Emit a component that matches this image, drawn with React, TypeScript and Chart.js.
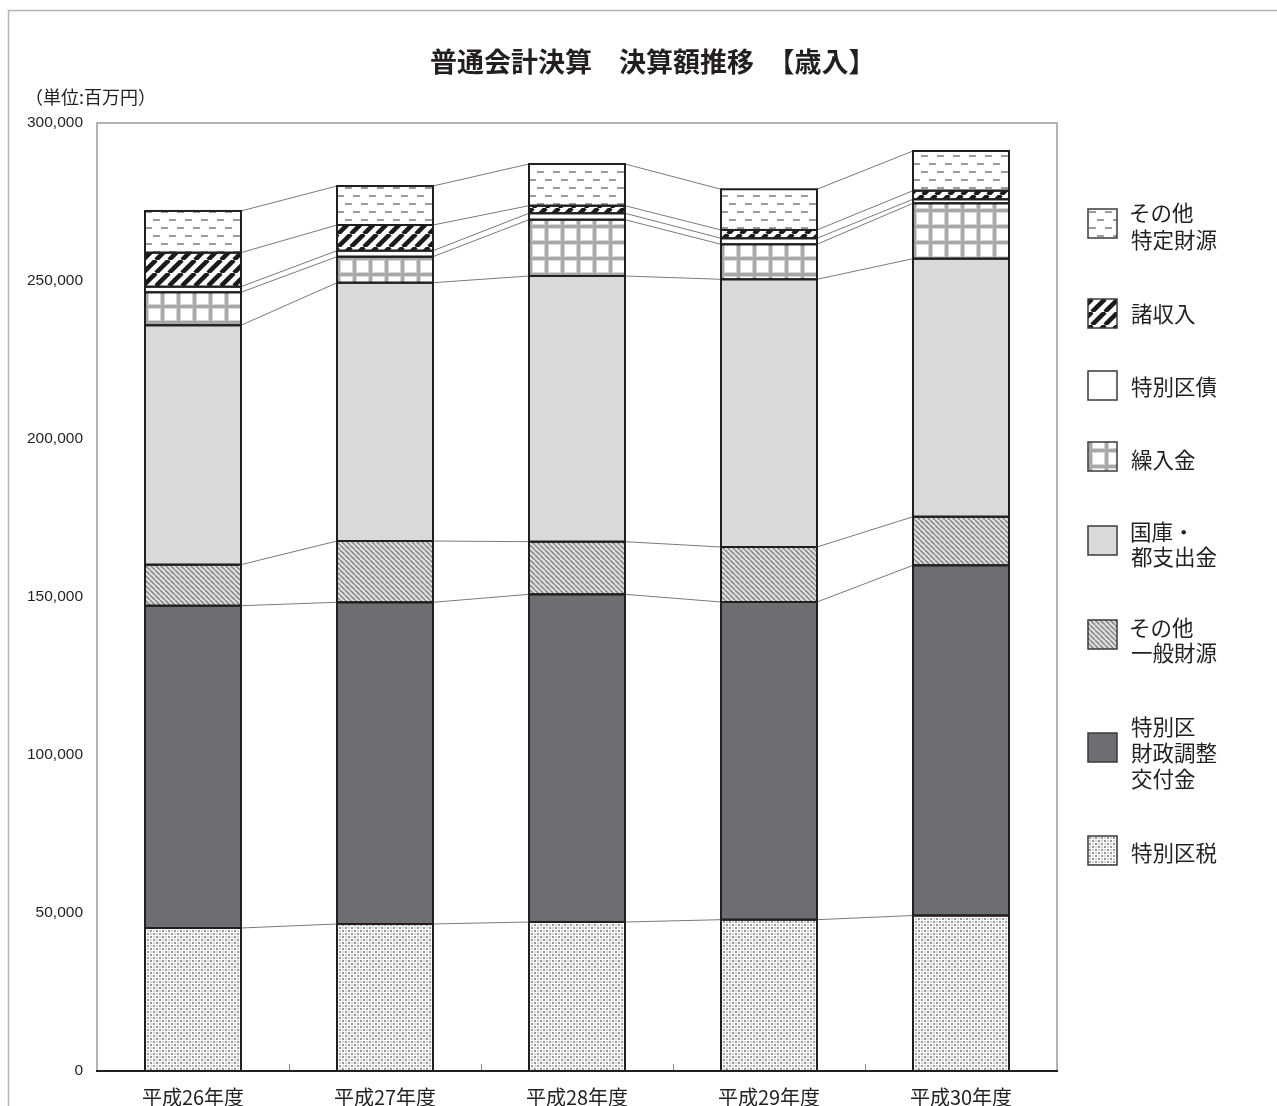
import React, { useEffect, useRef } from 'react';
import { Chart, registerables } from 'chart.js';

Chart.register(...registerables);

// ---- data (単位: 百万円) ----
const categories = ['平成26年度', '平成27年度', '平成28年度', '平成29年度', '平成30年度'];
const tokubetsukuZei = [45250, 46520, 47150, 47880, 49210];          // 特別区税
const zaichoKofukin = [102000, 101800, 103700, 100540, 110820];      // 特別区財政調整交付金
const sonotaIppan = [12980, 19400, 16650, 17400, 15380];             // その他一般財源
const kokkoToshishutsu = [75760, 81740, 84080, 84720, 81650];        // 国庫・都支出金
const kuriirekin = [10440, 8230, 17820, 11080, 17530];               // 繰入金
const tokubetsukuSai = [1770, 1900, 2030, 1900, 1270];               // 特別区債
const shoShunyu = [10760, 8130, 2400, 2630, 2720];                   // 諸収入
const sonotaTokutei = [13200, 12340, 13200, 12880, 12560];           // その他特定財源

const seriesLabels = ['特別区税', '特別区財政調整交付金', 'その他一般財源', '国庫・都支出金', '繰入金', '特別区債', '諸収入', 'その他特定財源'];
const yTickStep = 50000;
const yMax = 300000;
const titleText = '普通会計決算　決算額推移　【歳入】';
const unitText = '（単位:百万円）';

const JP = '"Noto Sans CJK JP", "Noto Sans", sans-serif';
const NUM = '"Liberation Sans", Arial, sans-serif';
const INK = '#231f20';

function makePattern(ctx: CanvasRenderingContext2D, w: number, h: number, draw: (g: CanvasRenderingContext2D, w: number, h: number) => void) {
  const c = document.createElement('canvas');
  c.width = w;
  c.height = h;
  const g = c.getContext('2d')!;
  draw(g, w, h);
  return ctx.createPattern(c, 'repeat')!;
}

// draw text so that its visible glyph box starts at `left`
function textAtVisibleLeft(c: CanvasRenderingContext2D, t: string, left: number, y: number) {
  c.textAlign = 'left';
  const m = c.measureText(t);
  c.fillText(t, left + m.actualBoundingBoxLeft, y);
}

export default function App() {
  const ref = useRef<HTMLCanvasElement>(null);

  useEffect(() => {
    const canvas = ref.current!;
    const ctx = canvas.getContext('2d')!;

    const pDots = makePattern(ctx, 6, 6, (g, w, h) => {
      g.fillStyle = '#ffffff';
      g.fillRect(0, 0, w, h);
      g.fillStyle = '#999999';
      g.fillRect(0, 0, 2, 2);
      g.fillRect(3, 3, 2, 2);
      g.fillStyle = '#d4d4d4';
      g.fillRect(3, 0, 2, 2);
      g.fillRect(0, 3, 2, 2);
    });
    const pStripeGray = makePattern(ctx, 5, 5, (g, w, h) => {
      g.fillStyle = '#e4e4e4';
      g.fillRect(0, 0, w, h);
      g.strokeStyle = '#8a8a8a';
      g.lineWidth = 1.6;
      for (const k of [-w, 0, w]) {
        g.beginPath();
        g.moveTo(k, 0);
        g.lineTo(k + w, h);
        g.stroke();
      }
    });
    const pGrid = makePattern(ctx, 16, 16, (g, w, h) => {
      g.fillStyle = '#ffffff';
      g.fillRect(0, 0, w, h);
      g.fillStyle = '#d6d6d6';
      g.fillRect(0, 0, 5, h);
      g.fillRect(0, 0, w, 5);
      g.fillStyle = '#a8a8a8';
      g.fillRect(1, 0, 3, h);
      g.fillRect(0, 1, w, 3);
    });
    const pStripeBlack = makePattern(ctx, 13, 13, (g, w, h) => {
      g.fillStyle = '#ffffff';
      g.fillRect(0, 0, w, h);
      g.strokeStyle = '#1a1a1a';
      g.lineWidth = 4.5;
      for (const k of [-w, 0, w]) {
        g.beginPath();
        g.moveTo(k, h);
        g.lineTo(k + w, 0);
        g.stroke();
      }
    });
    const pDash = makePattern(ctx, 16, 16, (g, w, h) => {
      g.fillStyle = '#ffffff';
      g.fillRect(0, 0, w, h);
      g.fillStyle = '#9c9c9c';
      g.fillRect(1, 3, 7, 2);
      g.fillRect(9, 11, 7, 2);
    });

    const fills = [pDots, '#6d6e71', pStripeGray, '#d9d9db', pGrid, '#ffffff', pStripeBlack, pDash];
    const values = [tokubetsukuZei, zaichoKofukin, sonotaIppan, kokkoToshishutsu, kuriirekin, tokubetsukuSai, shoShunyu, sonotaTokutei];

    // legend layout (top to bottom): series index, label lines, swatch top, line centres
    const legendItems = [
      { ds: 7, lines: ['その他', '特定財源'], sw: 209, ys: [213, 240] },
      { ds: 6, lines: ['諸収入'], sw: 299, ys: [314] },
      { ds: 5, lines: ['特別区債'], sw: 371, ys: [387] },
      { ds: 4, lines: ['繰入金'], sw: 442, ys: [460] },
      { ds: 3, lines: ['国庫・', '都支出金'], sw: 526, ys: [532, 557] },
      { ds: 2, lines: ['その他', '一般財源'], sw: 620, ys: [628, 653] },
      { ds: 1, lines: ['特別区', '財政調整', '交付金'], sw: 733, ys: [727, 753, 779] },
      { ds: 0, lines: ['特別区税'], sw: 836, ys: [853] },
    ];

    const decorPlugin = {
      id: 'decor',
      beforeDatasetsDraw(chart: any) {
        const c = chart.ctx;
        const a = chart.chartArea;
        c.save();
        // outer frame (top + left)
        c.strokeStyle = '#b4b4b4';
        c.lineWidth = 1.5;
        c.beginPath();
        c.moveTo(8.5, 1106);
        c.lineTo(8.5, 10.5);
        c.lineTo(1277, 10.5);
        c.stroke();
        // plot frame
        c.strokeStyle = '#9a9a9a';
        c.lineWidth = 1.5;
        c.strokeRect(a.left, a.top, a.right - a.left, a.bottom - a.top);
        // connector lines between segment tops
        c.strokeStyle = '#7a7a7a';
        c.lineWidth = 1;
        chart.data.datasets.forEach((_d: any, di: number) => {
          const els = chart.getDatasetMeta(di).data;
          for (let i = 0; i < els.length - 1; i++) {
            const e1 = els[i].getProps(['x', 'y', 'width'], true);
            const e2 = els[i + 1].getProps(['x', 'y', 'width'], true);
            c.beginPath();
            c.moveTo(e1.x + e1.width / 2, e1.y);
            c.lineTo(e2.x - e2.width / 2, e2.y);
            c.stroke();
          }
        });
        c.restore();
      },
      afterDatasetsDraw(chart: any) {
        const c = chart.ctx;
        const a = chart.chartArea;
        c.save();
        c.strokeStyle = INK;
        c.lineWidth = 2;
        chart.data.datasets.forEach((_d: any, di: number) => {
          chart.getDatasetMeta(di).data.forEach((el: any) => {
            const p = el.getProps(['x', 'y', 'base', 'width'], true);
            c.strokeRect(p.x - p.width / 2, p.y, p.width, p.base - p.y);
          });
        });
        // category boundary ticks (inside)
        const xs = chart.scales.x;
        c.strokeStyle = '#8a8a8a';
        c.lineWidth = 1;
        for (let i = 0; i < categories.length - 1; i++) {
          const bx = Math.round((xs.getPixelForValue(i) + xs.getPixelForValue(i + 1)) / 2) + 0.5;
          c.beginPath();
          c.moveTo(bx, a.bottom);
          c.lineTo(bx, a.bottom - 7);
          c.stroke();
        }
        // baseline
        c.strokeStyle = INK;
        c.lineWidth = 2;
        c.beginPath();
        c.moveTo(a.left - 1, a.bottom);
        c.lineTo(a.right + 1, a.bottom);
        c.stroke();
        c.restore();
      },
      afterDraw(chart: any) {
        const c = chart.ctx;
        c.save();
        c.fillStyle = INK;
        c.textBaseline = 'middle';
        // title
        c.font = `bold 27px ${JP}`;
        textAtVisibleLeft(c, titleText, 431, 62);
        // unit
        c.font = `18px ${JP}`;
        textAtVisibleLeft(c, unitText, 37, 97);
        // legend
        legendItems.forEach((it) => {
          c.fillStyle = chart.data.datasets[it.ds].backgroundColor;
          c.fillRect(1088, it.sw, 29, 29);
          c.strokeStyle = '#3a3a3a';
          c.lineWidth = 1.5;
          c.strokeRect(1088, it.sw, 29, 29);
          c.fillStyle = INK;
          c.font = `21.5px ${JP}`;
          it.lines.forEach((ln, k) => textAtVisibleLeft(c, ln, 1131, it.ys[k]));
        });
        c.restore();
      },
    };

    const chart = new Chart(ctx, {
      type: 'bar',
      data: {
        labels: categories,
        datasets: values.map((v, i) => ({
          label: seriesLabels[i],
          data: v,
          backgroundColor: fills[i] as any,
          borderWidth: 0,
          barPercentage: 0.5,
          categoryPercentage: 1.0,
        })),
      },
      options: {
        responsive: false,
        animation: false,
        devicePixelRatio: 1,
        layout: { padding: { left: 0, top: 123, right: 220, bottom: 0 } },
        plugins: {
          legend: { display: false },
          tooltip: { enabled: false },
          title: { display: false },
        },
        scales: {
          x: {
            stacked: true,
            grid: { display: false, drawTicks: false },
            border: { display: false },
            ticks: { color: INK, font: { family: JP, size: 20 }, padding: 14, maxRotation: 0 },
            afterFit: (s: any) => { s.height = 35; },
          },
          y: {
            stacked: true,
            min: 0,
            max: yMax,
            grid: { display: false, drawTicks: false },
            border: { display: false },
            ticks: {
              stepSize: yTickStep,
              color: INK,
              font: { family: NUM, size: 15.5 },
              padding: 14,
              callback: (v: any) => Number(v).toLocaleString('en-US'),
            },
            afterFit: (s: any) => { s.width = 97; },
          },
        },
      },
      plugins: [decorPlugin],
    });

    return () => chart.destroy();
  }, []);

  return (
    <div style={{ position: 'fixed', left: 0, top: 0, width: 1277, height: 1106, overflow: 'hidden', background: '#ffffff' }}>
      <canvas ref={ref} width={1277} height={1106} style={{ display: 'block', width: 1277, height: 1106 }} />
    </div>
  );
}
